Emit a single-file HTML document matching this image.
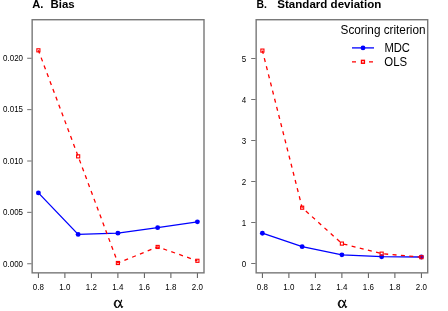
<!DOCTYPE html>
<html><head><meta charset="utf-8">
<style>
html,body{margin:0;padding:0;background:#fff;}
body{width:448px;height:311px;overflow:hidden;font-family:"Liberation Sans",sans-serif;}
svg{display:block;will-change:transform;}
text{font-family:"Liberation Sans",sans-serif;fill:#000;}
.t{font-size:11.5px;font-weight:bold;}
.k{font-size:8.5px;fill:#1c1c1c;}
.l{font-size:12px;}
</style></head><body>
<svg width="448" height="311" viewBox="0 0 448 311">
<rect width="448" height="311" fill="#fff"/>
<text class="t" x="32.2" y="7.95" textLength="11.2" lengthAdjust="spacingAndGlyphs">A.</text><text class="t" x="50.5" y="7.95" textLength="24.2" lengthAdjust="spacingAndGlyphs">Bias</text>
<rect x="32.15" y="19.72" width="171.85" height="253.13" fill="none" stroke="#777" stroke-width="1.4"/>
<g stroke-width="1"><path stroke="#707070" d="M27.2 58.25H31.6M27.2 109.65H31.6M27.2 161.0H31.6M27.2 212.35H31.6M27.2 263.75H31.6"/><path stroke="#555" d="M38.40 273.2V278M64.90 273.2V278M91.40 273.2V278M117.90 273.2V278M144.40 273.2V278M170.90 273.2V278M197.40 273.2V278"/></g>
<g class="k" text-anchor="end"><text transform="translate(23.00 61.10) scale(0.94 1)">0.020</text><text transform="translate(23.00 112.40) scale(0.94 1)">0.015</text><text transform="translate(23.00 163.85) scale(0.94 1)">0.010</text><text transform="translate(23.00 215.20) scale(0.94 1)">0.005</text><text transform="translate(23.00 266.60) scale(0.94 1)">0.000</text></g>
<g class="k" text-anchor="middle"><text transform="translate(38.40 290.2) scale(0.94 1)">0.8</text><text transform="translate(64.90 290.2) scale(0.94 1)">1.0</text><text transform="translate(91.40 290.2) scale(0.94 1)">1.2</text><text transform="translate(117.90 290.2) scale(0.94 1)">1.4</text><text transform="translate(144.40 290.2) scale(0.94 1)">1.6</text><text transform="translate(170.90 290.2) scale(0.94 1)">1.8</text><text transform="translate(197.40 290.2) scale(0.94 1)">2.0</text></g>
<polyline points="38.40,192.90 78.15,234.40 117.90,233.15 157.65,227.65 197.40,221.85" fill="none" stroke="#00f" stroke-width="1.3"/>
<g fill="#00f"><circle cx="38.40" cy="192.90" r="2.45"/><circle cx="78.15" cy="234.40" r="2.45"/><circle cx="117.90" cy="233.15" r="2.45"/><circle cx="157.65" cy="227.65" r="2.45"/><circle cx="197.40" cy="221.85" r="2.45"/></g>
<polyline points="38.40,50.33 78.15,156.35 117.90,263.00 157.65,246.95 197.40,260.80" fill="none" stroke="#f00" stroke-width="1.3" stroke-dasharray="4 4.38" stroke-dashoffset="0.6"/>
<g fill="none" stroke="#f00" stroke-width="1.1"><rect x="36.85" y="48.78" width="3.1" height="3.1"/><rect x="76.60" y="154.80" width="3.1" height="3.1"/><rect x="116.35" y="261.45" width="3.1" height="3.1"/><rect x="156.10" y="245.40" width="3.1" height="3.1"/><rect x="195.85" y="259.25" width="3.1" height="3.1"/></g>
<g id="al" fill="none" stroke="#000" stroke-linecap="round" stroke-linejoin="round">
<path stroke-width="1" d="M118.4 307C118 307.3 117.5 307.5 117 307.5C115.1 307.5 114.25 305.6 114.25 303.9C114.25 302 115.3 300.3 117.2 300.3C117.7 300.3 118.2 300.5 118.5 300.8"/>
<path stroke-width="1.15" d="M121.6 300.2C121.1 301.6 120.8 302.6 120.4 303.5C119.8 305 119.1 306.4 118.4 307M118.5 300.8C119.4 301.6 119.9 302.5 120.4 303.5C120.9 304.6 121.1 305.8 121.35 306.6C121.5 307.1 121.7 307.4 122 307.4"/>
<path stroke-width="0.85" d="M122 307.4C122.4 307.3 122.6 306.9 122.75 306.4"/>
<path stroke-width="1.2" d="M116.3 307C115.4 306.5 115 305.2 115 303.9C115 302.5 115.45 301.3 116.4 300.75"/>
</g>
<text class="t" x="256.6" y="7.95" textLength="10.4" lengthAdjust="spacingAndGlyphs">B.</text><text class="t" x="277.3" y="7.95" textLength="104" lengthAdjust="spacingAndGlyphs">Standard deviation</text>
<rect x="256.15" y="19.72" width="171.55" height="253.13" fill="none" stroke="#777" stroke-width="1.4"/>
<g stroke-width="1"><path stroke="#707070" d="M251.2 58.5H255.6M251.2 99.5H255.6M251.2 140.5H255.6M251.2 181.5H255.6M251.2 222.5H255.6M251.2 263.5H255.6"/><path stroke="#555" d="M262.40 273.2V278M288.90 273.2V278M315.40 273.2V278M341.90 273.2V278M368.40 273.2V278M394.90 273.2V278M421.40 273.2V278"/></g>
<g class="k" text-anchor="end"><text transform="translate(246.25 61.80) scale(0.94 1)">5</text><text transform="translate(246.25 102.80) scale(0.94 1)">4</text><text transform="translate(246.25 143.80) scale(0.94 1)">3</text><text transform="translate(246.25 184.80) scale(0.94 1)">2</text><text transform="translate(246.25 225.80) scale(0.94 1)">1</text><text transform="translate(246.25 266.80) scale(0.94 1)">0</text></g>
<g class="k" text-anchor="middle"><text transform="translate(262.40 290.2) scale(0.94 1)">0.8</text><text transform="translate(288.90 290.2) scale(0.94 1)">1.0</text><text transform="translate(315.40 290.2) scale(0.94 1)">1.2</text><text transform="translate(341.90 290.2) scale(0.94 1)">1.4</text><text transform="translate(368.40 290.2) scale(0.94 1)">1.6</text><text transform="translate(394.90 290.2) scale(0.94 1)">1.8</text><text transform="translate(421.40 290.2) scale(0.94 1)">2.0</text></g>
<polyline points="262.40,233.20 302.15,246.65 341.90,254.85 381.65,256.70 421.40,257.00" fill="none" stroke="#00f" stroke-width="1.3"/>
<g fill="#00f"><circle cx="262.40" cy="233.20" r="2.45"/><circle cx="302.15" cy="246.65" r="2.45"/><circle cx="341.90" cy="254.85" r="2.45"/><circle cx="381.65" cy="256.70" r="2.45"/><circle cx="421.40" cy="257.00" r="2.45"/></g>
<polyline points="262.40,50.60 302.15,207.70 341.90,243.60 381.65,253.65 421.40,257.20" fill="none" stroke="#f00" stroke-width="1.3" stroke-dasharray="4 4.38" stroke-dashoffset="0.6"/>
<g fill="none" stroke="#f00" stroke-width="1.1"><rect x="260.85" y="49.05" width="3.1" height="3.1"/><rect x="300.60" y="206.15" width="3.1" height="3.1"/><rect x="340.35" y="242.05" width="3.1" height="3.1"/><rect x="380.10" y="252.10" width="3.1" height="3.1"/><rect x="419.85" y="255.65" width="3.1" height="3.1"/></g>
<use href="#al" x="224" y="0"/>
<text class="l" x="340.6" y="34.1" textLength="84.9" lengthAdjust="spacingAndGlyphs">Scoring criterion</text>
<text class="l" x="384.4" y="51.7" textLength="25.6" lengthAdjust="spacingAndGlyphs">MDC</text>
<text class="l" x="384.3" y="65.5" textLength="22.8" lengthAdjust="spacingAndGlyphs">OLS</text>
<path d="M352 47.9H374" stroke="#00f" stroke-width="1.3"/>
<circle cx="363" cy="47.9" r="2.4" fill="#00f"/>
<path d="M352 61.8H356M369 61.8H373" stroke="#f00" stroke-width="1.3"/>
<rect x="361.5" y="60.35" width="2.9" height="2.9" fill="none" stroke="#f00" stroke-width="1.4"/>
</svg>
</body></html>
